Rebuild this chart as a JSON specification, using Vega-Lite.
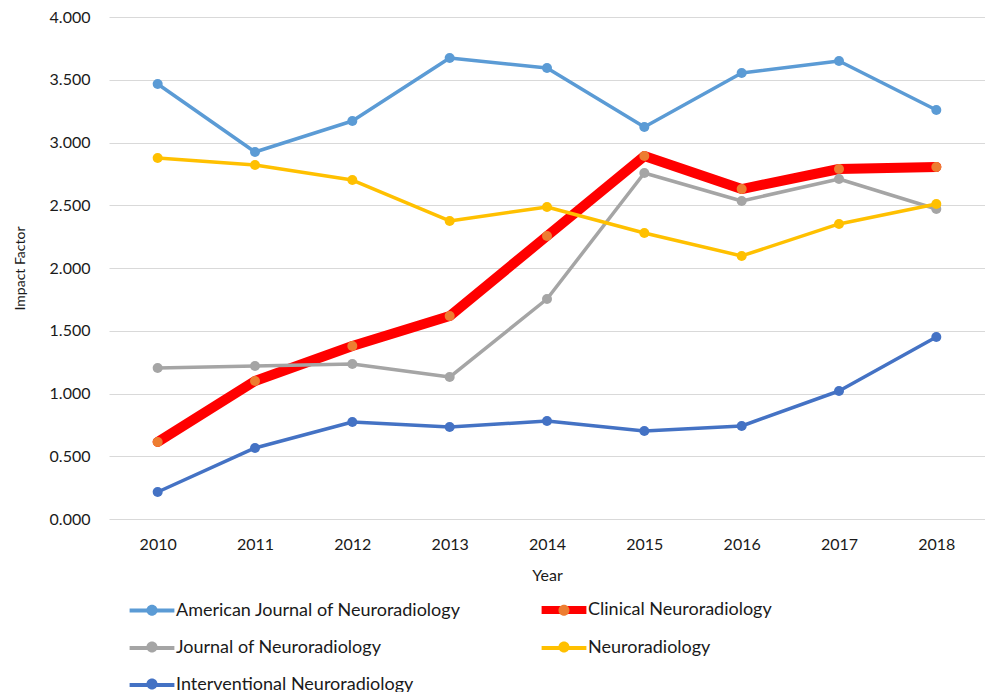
{
  "$schema": "https://vega.github.io/schema/vega-lite/v6.json",
  "width": 876,
  "height": 502,
  "autosize": {"type": "none"},
  "padding": {"left": 109, "top": 17, "right": 0, "bottom": 173},
  "background": "white",
  "config": {
    "font": "Lato",
    "view": {"stroke": null},
    "axis": {
      "labelFont": "Lato",
      "titleFont": "Lato",
      "labelColor": "#1a1a1a",
      "titleColor": "#1a1a1a",
      "titleFontWeight": "normal",
      "domain": false,
      "ticks": false,
      "tickSize": 0
    },
    "legend": {"labelFont": "Lato", "labelColor": "#1a1a1a"}
  },
  "data": {
    "values": [
      {"year": "2010", "series": "American Journal of Neuroradiology", "value": 3.466},
      {"year": "2011", "series": "American Journal of Neuroradiology", "value": 2.924},
      {"year": "2012", "series": "American Journal of Neuroradiology", "value": 3.171},
      {"year": "2013", "series": "American Journal of Neuroradiology", "value": 3.673},
      {"year": "2014", "series": "American Journal of Neuroradiology", "value": 3.594},
      {"year": "2015", "series": "American Journal of Neuroradiology", "value": 3.124},
      {"year": "2016", "series": "American Journal of Neuroradiology", "value": 3.554},
      {"year": "2017", "series": "American Journal of Neuroradiology", "value": 3.649},
      {"year": "2018", "series": "American Journal of Neuroradiology", "value": 3.259},
      {"year": "2010", "series": "Clinical Neuroradiology", "value": 0.614},
      {"year": "2011", "series": "Clinical Neuroradiology", "value": 1.100},
      {"year": "2012", "series": "Clinical Neuroradiology", "value": 1.378},
      {"year": "2013", "series": "Clinical Neuroradiology", "value": 1.617},
      {"year": "2014", "series": "Clinical Neuroradiology", "value": 2.255},
      {"year": "2015", "series": "Clinical Neuroradiology", "value": 2.892},
      {"year": "2016", "series": "Clinical Neuroradiology", "value": 2.629},
      {"year": "2017", "series": "Clinical Neuroradiology", "value": 2.789},
      {"year": "2018", "series": "Clinical Neuroradiology", "value": 2.805},
      {"year": "2010", "series": "Journal of Neuroradiology", "value": 1.203},
      {"year": "2011", "series": "Journal of Neuroradiology", "value": 1.219},
      {"year": "2012", "series": "Journal of Neuroradiology", "value": 1.235},
      {"year": "2013", "series": "Journal of Neuroradiology", "value": 1.131},
      {"year": "2014", "series": "Journal of Neuroradiology", "value": 1.753},
      {"year": "2015", "series": "Journal of Neuroradiology", "value": 2.757},
      {"year": "2016", "series": "Journal of Neuroradiology", "value": 2.534},
      {"year": "2017", "series": "Journal of Neuroradiology", "value": 2.709},
      {"year": "2018", "series": "Journal of Neuroradiology", "value": 2.470},
      {"year": "2010", "series": "Neuroradiology", "value": 2.876},
      {"year": "2011", "series": "Neuroradiology", "value": 2.821},
      {"year": "2012", "series": "Neuroradiology", "value": 2.701},
      {"year": "2013", "series": "Neuroradiology", "value": 2.375},
      {"year": "2014", "series": "Neuroradiology", "value": 2.486},
      {"year": "2015", "series": "Neuroradiology", "value": 2.279},
      {"year": "2016", "series": "Neuroradiology", "value": 2.096},
      {"year": "2017", "series": "Neuroradiology", "value": 2.351},
      {"year": "2018", "series": "Neuroradiology", "value": 2.510},
      {"year": "2010", "series": "Interventional Neuroradiology", "value": 0.215},
      {"year": "2011", "series": "Interventional Neuroradiology", "value": 0.566},
      {"year": "2012", "series": "Interventional Neuroradiology", "value": 0.773},
      {"year": "2013", "series": "Interventional Neuroradiology", "value": 0.733},
      {"year": "2014", "series": "Interventional Neuroradiology", "value": 0.781},
      {"year": "2015", "series": "Interventional Neuroradiology", "value": 0.701},
      {"year": "2016", "series": "Interventional Neuroradiology", "value": 0.741},
      {"year": "2017", "series": "Interventional Neuroradiology", "value": 1.020},
      {"year": "2018", "series": "Interventional Neuroradiology", "value": 1.450}
    ]
  },
  "encoding": {
    "x": {
      "field": "year",
      "type": "ordinal",
      "scale": {"type": "point", "padding": 0.5},
      "axis": {"title": "Year", "labelAngle": 0, "labelFontSize": 16, "labelPadding": 17, "titleFontSize": 16, "titlePadding": 15, "grid": false}
    },
    "y": {
      "field": "value",
      "type": "quantitative",
      "scale": {"domain": [0, 4], "nice": false, "zero": true},
      "axis": {"title": "Impact Factor", "values": [0, 0.5, 1, 1.5, 2, 2.5, 3, 3.5, 4], "format": ".3f", "labelFontSize": 16, "labelPadding": 19, "titleFontSize": 14, "titlePadding": 22, "grid": true, "gridColor": "#d9d9d9", "gridWidth": 1}
    }
  },
  "layer": [
    {
      "transform": [{"filter": "datum.series === 'Clinical Neuroradiology'"}],
      "mark": {"type": "line", "strokeWidth": 10, "strokeJoin": "round", "strokeCap": "round"},
      "encoding": {
        "stroke": {
          "field": "series",
          "type": "nominal",
          "scale": {
            "domain": ["American Journal of Neuroradiology", "Clinical Neuroradiology", "Journal of Neuroradiology", "Neuroradiology", "Interventional Neuroradiology"],
            "range": ["#5B9BD5", "#FF0000", "#A5A5A5", "#FFC000", "#4472C4"]
          },
          "legend": {
            "orient": "none", "legendX": 33, "legendY": 583, "columns": 2, "direction": "horizontal", "title": null,
            "symbolType": "M-2.8,0H2.8", "symbolSize": 256, "symbolStrokeWidth": 4,
            "labelFontSize": 18, "labelOffset": 14, "labelLimit": 500, "columnPadding": 72, "rowPadding": 18,
            "encode": {"symbols": {"update": {
              "size": {"value": 256},
              "strokeWidth": {"value": 4},
              "shape": {"signal": "datum.value === 'Clinical Neuroradiology' ? 'M-2.8,-0.25H2.8M-2.8,0.25H2.8' : 'M-2.8,0H2.8'"}
            }}}
          }
        }
      }
    },
    {
      "transform": [{"filter": "datum.series !== 'Clinical Neuroradiology'"}],
      "mark": {"type": "line", "strokeWidth": 3.5, "strokeJoin": "round", "strokeCap": "round"},
      "encoding": {
        "stroke": {
          "field": "series",
          "type": "nominal",
          "scale": {
            "domain": ["American Journal of Neuroradiology", "Clinical Neuroradiology", "Journal of Neuroradiology", "Neuroradiology", "Interventional Neuroradiology"],
            "range": ["#5B9BD5", "#FF0000", "#A5A5A5", "#FFC000", "#4472C4"]
          }
        }
      }
    },
    {
      "mark": {"type": "circle", "size": 100, "opacity": 1},
      "encoding": {
        "fill": {
          "field": "series",
          "type": "nominal",
          "sort": ["American Journal of Neuroradiology", "Clinical Neuroradiology", "Journal of Neuroradiology", "Neuroradiology", "Interventional Neuroradiology"],
          "scale": {"range": ["#5B9BD5", "#ED7D31", "#A5A5A5", "#FFC000", "#4472C4"]},
          "legend": {
            "orient": "none", "legendX": 33, "legendY": 583, "columns": 2, "direction": "horizontal", "title": null,
            "symbolType": "M-2.8,0H2.8M0.69,0C0.69,0.381 0.381,0.69 0,0.69C-0.381,0.69 -0.69,0.381 -0.69,0C-0.69,-0.381 -0.381,-0.69 0,-0.69C0.381,-0.69 0.69,-0.381 0.69,0Z", "symbolSize": 256, "symbolStrokeWidth": 4, "symbolStrokeColor": "transparent",
            "labelFontSize": 18, "labelOffset": 14, "labelLimit": 500, "columnPadding": 72, "rowPadding": 9, "labelOpacity": 0,
            "encode": {"symbols": {"update": {
              "size": {"value": 256},
              "strokeWidth": {"value": 4},
              "stroke": {"value": "transparent"},
              "opacity": {"value": 1}
            }}}
          }
        }
      }
    }
  ]
}
